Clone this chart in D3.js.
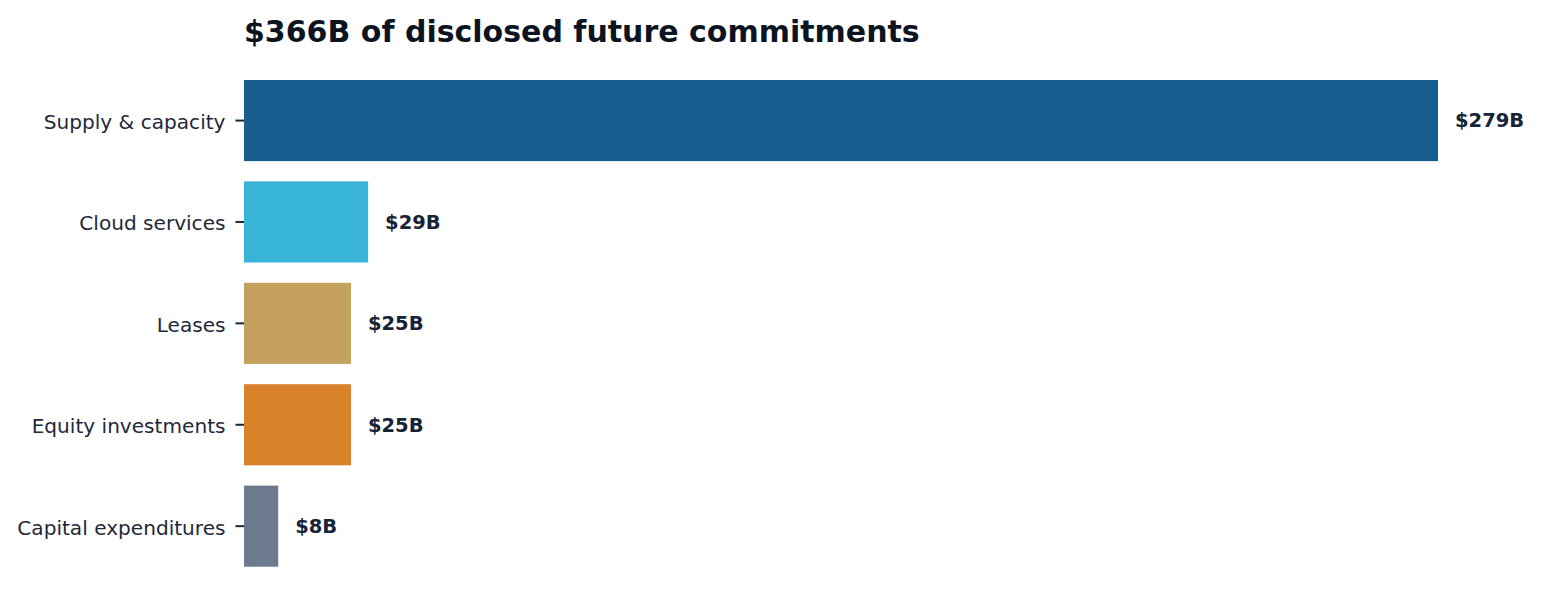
<!DOCTYPE html>
<html>
<head>
<meta charset="utf-8">
<script src="https://cdn.jsdelivr.net/npm/d3@7"></script>
<style>
  body { margin: 0; background: #fff; }
  svg { display: block; font-family: "DejaVu Sans", sans-serif; }
</style>
</head>
<body>
<svg id="chart" width="1545" height="609"></svg>
<script>
var categories = ["Supply & capacity", "Cloud services", "Leases", "Equity investments", "Capital expenditures"]
var values = [279, 29, 25, 25, 8]
var valueLabels = ["$279B", "$29B", "$25B", "$25B", "$8B"]
var colors = ["#175e8e", "#38b4d8", "#c4a25e", "#d9812b", "#6b7b8d"]
var title = "$366B of disclosed future commitments"

var svg = d3.select("#chart")

var left = 244

// 279 units span 1194px
const x = d3.scaleLinear()
    .domain([0, 279])
    .range([left, 1438])

const step = 101.4
const y = d3.scaleBand()
    .domain(categories)
    .range([80 - step * 0.1, 80 - step * 0.1 + step * 5])
    .paddingInner(0.2)
    .paddingOuter(0.1)

svg.append("text")
    .attr("x", left)
    .attr("y", 42)
    .attr("font-size", 30)
    .attr("font-weight", "bold")
    .attr("fill", "#0c1422")
    .text(title)

svg.selectAll("rect.bar")
    .data(categories)
    .enter()
    .append("rect")
    .attr("class", "bar")
    .attr("x", x(0))
    .attr("y", d => y(d))
    .attr("width", (d, i) => x(values[i]) - x(0))
    .attr("height", y.bandwidth())
    .attr("fill", (d, i) => colors[i])

svg.selectAll("text.val")
    .data(categories)
    .enter()
    .append("text")
    .attr("class", "val")
    .attr("x", (d, i) => x(values[i]) + 17)
    .attr("y", d => y(d) + y.bandwidth() / 2)
    .attr("dy", "0.35em")
    .attr("font-size", 19.5)
    .attr("font-weight", "bold")
    .attr("fill", "#172336")
    .text((d, i) => valueLabels[i])

var yAxis = d3.axisLeft(y)
    .tickSize(8.5)
    .tickPadding(10)

var g = svg.append("g")
    .attr("transform", `translate(${left},0)`)
    .call(yAxis)

g.select(".domain").remove()
g.selectAll(".tick line")
    .attr("stroke", "#1b2535")
    .attr("stroke-width", 2)
g.selectAll(".tick text")
    .attr("font-size", 20.1)
    .attr("font-family", "DejaVu Sans")
    .attr("fill", "#1e293b")
    .attr("dy", "0.42em")
</script>
</body>
</html>
